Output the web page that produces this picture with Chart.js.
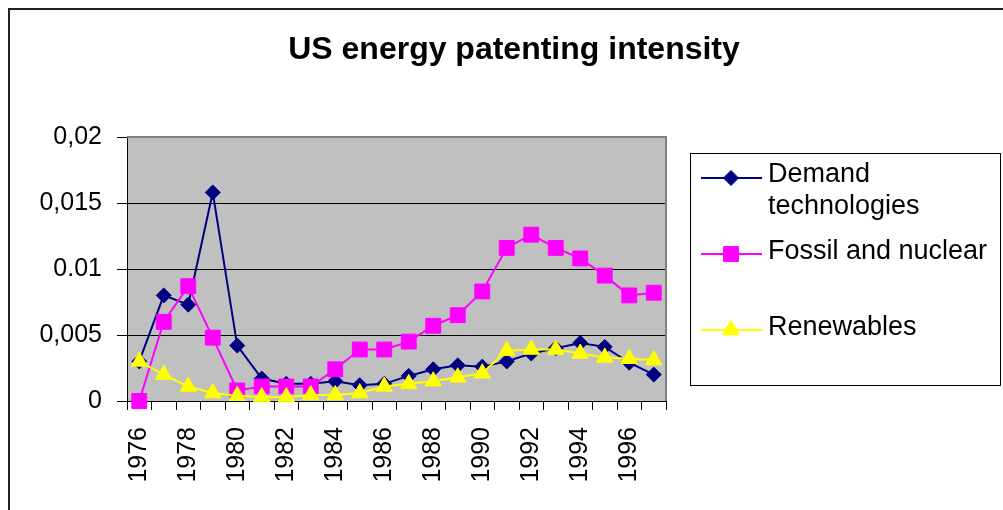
<!DOCTYPE html>
<html>
<head>
<meta charset="utf-8">
<script src="https://cdn.jsdelivr.net/npm/chart.js@4/dist/chart.umd.min.js"></script>
<style>
  html, body { margin: 0; padding: 0; background: #fff; }
  #wrap { width: 1003px; height: 510px; }
</style>
</head>
<body>
<div id="wrap"><canvas id="grafico" width="1003" height="510"></canvas></div>
<script>
// datos
let years = ['1976','1977','1978','1979','1980','1981','1982','1983','1984','1985','1986',
             '1987','1988','1989','1990','1991','1992','1993','1994','1995','1996','1997'];
let demand = [0.003, 0.008, 0.0073, 0.0158, 0.0042, 0.0017, 0.0013, 0.0013, 0.0015, 0.0012, 0.0013,
              0.0019, 0.0024, 0.0027, 0.0026, 0.003, 0.0036, 0.004, 0.0044, 0.0041, 0.0029, 0.002];
let fossil = [0, 0.006, 0.0087, 0.0048, 0.0008, 0.0011, 0.0011, 0.0011, 0.0024, 0.0039, 0.0039,
              0.0045, 0.0057, 0.0065, 0.0083, 0.0116, 0.0126, 0.0116, 0.0108, 0.0095, 0.008, 0.0082];
let renew = [0.003, 0.002, 0.0011, 0.0006, 0.0004, 0.0003, 0.0003, 0.00045, 0.00045, 0.0006, 0.0011,
             0.0013, 0.0015, 0.0018, 0.0021, 0.0038, 0.0039, 0.0039, 0.0036, 0.0033, 0.0032, 0.0031];
let yTicks = ['0', '0,005', '0.01', '0,015', '0,02'];
let legendLabels = [['Demand', 'technologies'], ['Fossil and nuclear'], ['Renewables']];
let title = 'US energy patenting intensity';

const FONT = '"Liberation Sans", Arial, sans-serif';

// fondo, marco, titulo y leyenda
const decor = {
  id: 'decor',
  beforeDraw(chart) {
    const c = chart.ctx, a = chart.chartArea;
    c.save();
    c.fillStyle = '#fff';
    c.fillRect(0, 0, chart.width, chart.height);
    c.strokeStyle = '#222';
    c.lineWidth = 2;
    c.beginPath();
    c.moveTo(9, chart.height + 2);
    c.lineTo(9, 9);
    c.lineTo(chart.width + 2, 9);
    c.stroke();
    c.fillStyle = '#C0C0C0';
    c.fillRect(a.left, a.top, a.right - a.left, a.bottom - a.top);
    c.restore();
  },
  beforeDatasetsDraw(chart) {
    const c = chart.ctx, a = chart.chartArea;
    c.save();
    c.strokeStyle = '#808080';
    c.lineWidth = 2;
    c.beginPath();
    c.moveTo(a.left, a.top);
    c.lineTo(a.right, a.top);
    c.lineTo(a.right, a.bottom);
    c.stroke();
    c.restore();
  },
  afterDraw(chart) {
    const c = chart.ctx;
    c.save();
    c.fillStyle = '#000';
    c.font = 'bold 32px ' + FONT;
    c.textAlign = 'center';
    c.textBaseline = 'middle';
    c.fillText(title, 514, 50);

    // caja de leyenda
    c.fillStyle = '#fff';
    c.fillRect(690, 153, 311, 233);
    c.strokeStyle = '#000';
    c.lineWidth = 1;
    c.strokeRect(690.5, 153.5, 310, 232);

    const rows = [[175, 207], [252], [328]];
    const lineY = [178, 254, 330];
    c.font = '27px ' + FONT;
    c.textAlign = 'left';
    chart.data.datasets.forEach((ds, i) => {
      c.strokeStyle = ds.borderColor;
      c.fillStyle = ds.borderColor;
      c.lineWidth = 2;
      c.beginPath();
      c.moveTo(701, lineY[i]);
      c.lineTo(762, lineY[i]);
      c.stroke();
      c.lineWidth = 1;
      Chart.helpers.drawPoint(c, {
        pointStyle: ds.pointStyle,
        radius: ds.pointRadius,
        borderWidth: 1,
        rotation: 0
      }, 731, lineY[i]);
      c.fillStyle = '#000';
      legendLabels[i].forEach((t, j) => c.fillText(t, 768, rows[i][j]));
    });
    c.restore();
  }
};

function serie(label, data, color, style, r, order) {
  return {
    label, data, order,
    borderColor: color,
    backgroundColor: color,
    pointBackgroundColor: color,
    pointBorderColor: color,
    borderWidth: 2,
    pointStyle: style,
    pointRadius: r,
    pointHoverRadius: r,
    pointBorderWidth: 1,
    tension: 0,
    clip: false
  };
}

let myChart = {
  type: 'line',
  data: {
    labels: years,
    datasets: [
      serie('Demand technologies', demand, '#000080', 'rectRot', 7.5, 3),
      serie('Fossil and nuclear', fossil, '#FF00FF', 'rect', 10.5, 2),
      serie('Renewables', renew, '#FFFF00', 'triangle', 9.5, 1)
    ]
  },
  plugins: [decor],
  options: {
    responsive: false,
    animation: false,
    layout: { padding: { left: 10, top: 137, right: 337, bottom: 0 } },
    plugins: {
      legend: { display: false },
      title: { display: false },
      tooltip: { enabled: false }
    },
    scales: {
      x: {
        offset: true,
        afterFit(s) { s.height = 109; },
        border: { color: '#000', width: 1 },
        grid: { offset: true, drawOnChartArea: false, drawTicks: true, tickLength: 9, color: '#000' },
        ticks: {
          autoSkip: false,
          maxRotation: 90,
          minRotation: 90,
          padding: 17,
          color: '#000',
          font: { family: FONT, size: 25 },
          callback: (v, i) => (i % 2 === 0 ? years[i] : '')
        }
      },
      y: {
        min: 0,
        max: 0.02,
        afterFit(s) { s.width = 117; },
        border: { color: '#000', width: 1 },
        grid: {
          color: (ctx) => (ctx.tick && ctx.tick.value >= 0.02 ? 'rgba(0,0,0,0)' : '#000'),
          tickColor: '#000',
          tickLength: 10,
          lineWidth: 1
        },
        ticks: {
          stepSize: 0.005,
          padding: 15,
          color: '#000',
          font: { family: FONT, size: 25 },
          callback: (v, i) => yTicks[i]
        }
      }
    }
  }
};

var grafico = document.getElementById('grafico');
window.chart = new Chart(grafico, myChart);
</script>
</body>
</html>
